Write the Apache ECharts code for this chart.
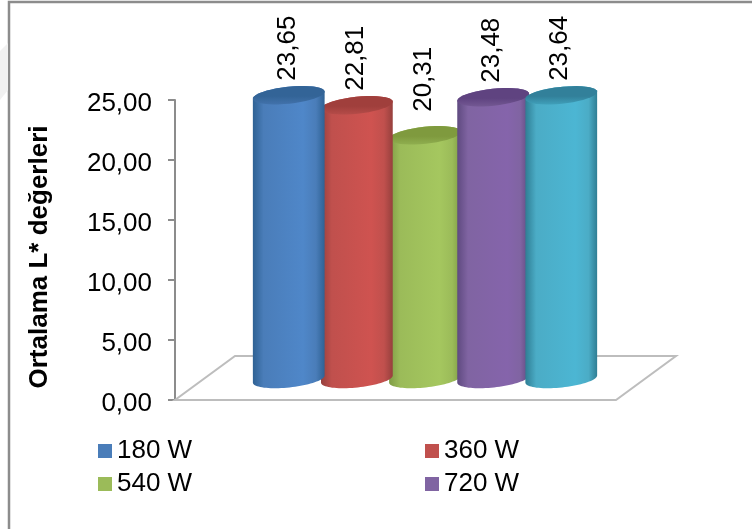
<!DOCTYPE html>
<html>
<head>
<meta charset="utf-8">
<style>html,body{margin:0;padding:0;background:#fff}#chart{width:752px;height:529px}</style>
<script src="https://cdn.jsdelivr.net/npm/echarts@6/dist/echarts.min.js"></script>
</head>
<body>
<div id="chart"></div>
<script>
// Average L* value per microwave power level
const powerLevels = ['180 W', '360 W', '540 W', '720 W', '900 W'];
const lValues = [23.65, 22.81, 20.31, 23.48, 23.64];
const legendLeft = ['180 W', '540 W'];
const legendRight = ['360 W', '720 W'];
const axisTitle = 'Ortalama L* değerleri';
const axisMin = 0;
const axisMax = 25;
const axisStep = 5;
const categories = [''];

// left edge, centre and right edge tones of each cylinder, plus its cap
const tones = [
  { base: '#4a7db9', edge: '#2f6294', mid: '#4f87c9', cap: '#336497', capLow: '#4272ab' },
  { base: '#c0504d', edge: '#96403d', mid: '#cf5350', cap: '#a03f3c', capLow: '#b54c49' },
  { base: '#9bbb59', edge: '#7f9c45', mid: '#a5c75f', cap: '#7f9a3e', capLow: '#8fae4f' },
  { base: '#8064a2', edge: '#5f4a80', mid: '#8564ab', cap: '#5f4380', capLow: '#735893' },
  { base: '#4bacc6', edge: '#2f7e94', mid: '#4cb6d3', cap: '#32809a', capLow: '#40a0ba' }
];

// 3D projection of the chart floor and the cylinders standing on it
const floorShiftX = 60;
const floorShiftY = 44;
const barShare = 0.1545;
const capRatio = 0.235;
const capTilt = -6 * Math.PI / 180;
const standLift = 21;

const commaFormat = (v, digits) => v.toFixed(digits).replace('.', ',');

function ellipsePoints(cx, cy, rx, ry, from, to) {
  const pts = [];
  const steps = 40;
  for (let k = 0; k <= steps; k++) {
    const a = from + (to - from) * k / steps;
    const ex = rx * Math.cos(a);
    const ey = ry * Math.sin(a);
    pts.push([
      cx + ex * Math.cos(capTilt) - ey * Math.sin(capTilt),
      cy + ex * Math.sin(capTilt) + ey * Math.cos(capTilt)
    ]);
  }
  return pts;
}

function cylinderItem(index) {
  return function (params, api) {
    const band = api.size([1, 0])[0];
    const width = band * barShare;
    const base = api.coord([0, 0]);
    const top = api.coord([0, api.value(1)]);
    const cx = base[0] + (index - 2) * width + floorShiftX / 2 - 0.5;
    const baseY = base[1] - standLift;
    const topY = top[1] - standLift;
    const rx = width / 2 + 2;
    const ry = rx * capRatio;
    const t = tones[index];
    const outline = ellipsePoints(cx, topY, rx, ry, Math.PI, 2 * Math.PI)
      .concat(ellipsePoints(cx, baseY, rx, ry, 0, Math.PI));
    const labelRise = index === 2 ? 15 : 6;
    return {
      type: 'group',
      children: [
        {
          type: 'polygon',
          shape: { points: outline },
          style: {
            fill: {
              type: 'linear', x: 0, y: 0, x2: 1, y2: 0,
              colorStops: [
                { offset: 0, color: t.edge },
                { offset: 0.15, color: t.base },
                { offset: 0.7, color: t.mid },
                { offset: 0.88, color: t.base },
                { offset: 1, color: t.edge }
              ]
            }
          }
        },
        {
          type: 'polygon',
          shape: { points: ellipsePoints(cx, topY, rx, ry, 0, 2 * Math.PI) },
          style: {
            fill: {
              type: 'linear', x: 0, y: 0, x2: 0, y2: 1,
              colorStops: [
                { offset: 0, color: t.cap },
                { offset: 0.55, color: t.cap },
                { offset: 1, color: t.capLow }
              ]
            }
          }
        },
        {
          type: 'text',
          x: cx - 1,
          y: topY - ry - labelRise,
          rotation: Math.PI / 2,
          style: {
            text: commaFormat(api.value(1), 2),
            font: '26px "Liberation Sans"',
            fill: '#000',
            align: 'left',
            verticalAlign: 'middle'
          }
        }
      ]
    };
  };
}

function floorItem(params, api) {
  const cs = params.coordSys;
  const y = api.coord([0, 0])[1];
  const x0 = cs.x;
  const x1 = cs.x + cs.width;
  return {
    type: 'polygon',
    shape: {
      points: [
        [x0, y],
        [x1, y],
        [x1 + floorShiftX, y - floorShiftY],
        [x0 + floorShiftX, y - floorShiftY]
      ]
    },
    style: { fill: '#fff', stroke: '#bdbdbd', lineWidth: 2 }
  };
}

const series = [{
  type: 'custom',
  name: 'floor',
  renderItem: floorItem,
  data: [[0, 0]],
  z: 1,
  silent: true
}];

// Drawing order keeps each cylinder's neighbours overlapping as in a 3D column chart
const drawOrder = [2, 1, 0, 3, 4];
powerLevels.forEach((name, i) => {
  series.push({
    type: 'custom',
    name,
    renderItem: cylinderItem(i),
    data: [[0, lValues[i]]],
    itemStyle: { color: tones[i].base },
    z: 2 + drawOrder.indexOf(i),
    clip: false,
    silent: true
  });
});

const legendBase = {
  orient: 'vertical',
  top: 432,
  icon: 'rect',
  itemWidth: 14,
  itemHeight: 14,
  itemGap: 5,
  textStyle: { fontFamily: 'Liberation Sans', fontSize: 26, color: '#000', lineHeight: 28 },
  selectedMode: false
};

const chart = echarts.init(document.getElementById('chart'), null, { renderer: 'canvas' });
chart.setOption({
  animation: false,
  backgroundColor: '#fff',
  grid: { left: 175, top: 100, width: 441, height: 300, containLabel: false },
  xAxis: {
    type: 'category',
    data: categories,
    axisLine: { show: false },
    axisTick: { show: false },
    axisLabel: { show: false }
  },
  yAxis: {
    type: 'value',
    min: axisMin,
    max: axisMax,
    interval: axisStep,
    name: axisTitle,
    nameLocation: 'middle',
    nameGap: 122,
    nameRotate: 90,
    nameTextStyle: {
      fontFamily: 'Liberation Sans',
      fontSize: 26,
      fontWeight: 'bold',
      color: '#000',
      padding: [0, 14, 0, 0]
    },
    axisLine: { show: true, lineStyle: { color: '#8c8c8c', width: 2 } },
    axisTick: { show: true, length: 7, lineStyle: { color: '#8c8c8c', width: 2 } },
    axisLabel: {
      margin: 23,
      verticalAlign: 'top',
      lineHeight: 8,
      fontFamily: 'Liberation Sans',
      fontSize: 26,
      color: '#000',
      formatter: v => commaFormat(v, 2)
    },
    splitLine: { show: false }
  },
  legend: [
    Object.assign({ left: 93, data: legendLeft }, legendBase),
    Object.assign({ left: 420, data: legendRight }, legendBase)
  ],
  graphic: [
    {
      // slide frame, running off the right and bottom of the canvas
      type: 'rect',
      silent: true,
      z: 0,
      shape: { x: 9, y: 2, width: 800, height: 600 },
      style: { fill: 'none', stroke: '#8c8c8c', lineWidth: 2.5 }
    },
    {
      // pale background shape outside the frame
      type: 'polygon',
      silent: true,
      z: 0,
      shape: { points: [[0, 51], [8, 43], [8, 90], [0, 100]] },
      style: { fill: '#f1f1f1' }
    }
  ],
  series
});
</script>
</body>
</html>
